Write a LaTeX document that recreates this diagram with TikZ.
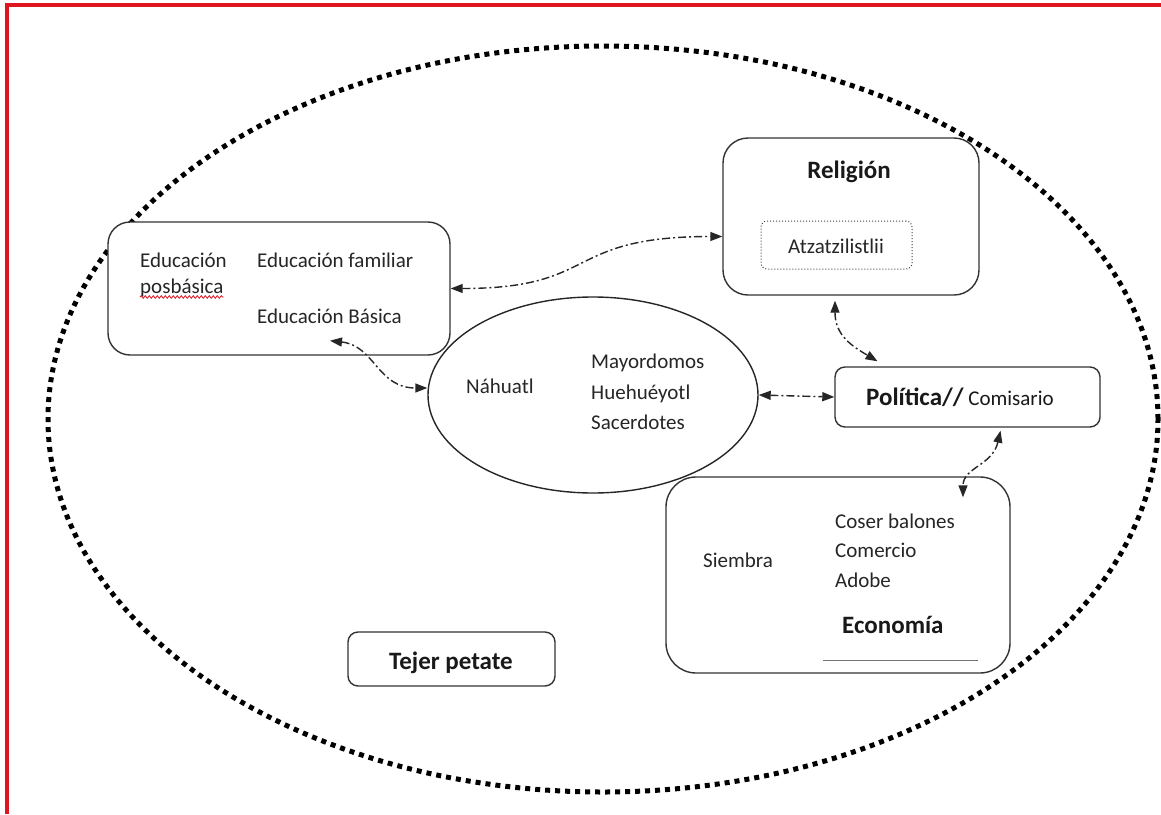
\documentclass[tikz,border=0pt]{standalone}
\usepackage{fontspec}
\setmainfont{Carlito}
\usetikzlibrary{arrows.meta,shapes.geometric,decorations.pathmorphing}
\definecolor{redb}{RGB}{222,22,32}
\newcommand\mytx{\fontsize{21}{25}\selectfont}
\newcommand\myhd{\fontsize{25}{29}\selectfont\bfseries}
\tikzset{
  box/.style={draw=black!80, fill=white, line width=1.4pt, rounded corners=#1, inner sep=0pt},
  box/.default=12pt,
  txt/.style={font=\mytx, inner sep=0pt, text=black!85},
  hd/.style={font=\myhd, inner sep=0pt, text=black!90},
  con/.style={line width=1.4pt, black!85, dash pattern=on 8pt off 3pt on 2pt off 3pt,
    {Triangle[length=12pt,width=9pt]}-{Triangle[length=12pt,width=9pt]}}
}
\begin{document}
\begin{tikzpicture}[x=1pt,y=-1pt]
\useasboundingbox (0,0) rectangle (1161,814);
\fill[white] (0,0) rectangle (1161,814);
\draw[redb, line width=3.5pt] (7,814) -- (7,5) -- (1161,5);

% outer dotted ellipse
\node[ellipse, draw=black, line width=5pt, dash pattern=on 5pt off 5pt,
      minimum width=1110pt, minimum height=746pt, inner sep=0pt] (outer) at (603,419) {};

% Educacion
\node[box=22pt, minimum width=342pt, minimum height=133pt] (edu) at (279,288.5) {};
\node[txt, anchor=base west] (eduA) at (140,267) {Educación};
\node[txt, anchor=base west] (eduB) at (140,293) {posbásica};
\draw[redb, line width=0.8pt, decorate, decoration={snake, amplitude=1.3pt, segment length=4pt}]
  ([yshift=-4pt]eduB.base west) -- ([yshift=-4pt]eduB.base east);
\node[txt, anchor=base west] (eduC) at (257,267) {Educación familiar};
\node[txt, anchor=base west] (eduD) at (257,323) {Educación Básica};

% Religion
\node[box=25pt, minimum width=256pt, minimum height=157pt] (rel) at (851,216.5) {};
\node[hd, anchor=base] (relT) at (849,178) {Religión};
\node[draw=black!75, dotted, line width=1pt, rounded corners=6pt,
      minimum width=151pt, minimum height=48pt, inner sep=0pt] (atz) at (836.5,245) {};
\node[txt, anchor=base] (atzT) at (836,253) {Atzatzilistlii};

% Politica
\node[box=10pt, minimum width=265pt, minimum height=60pt] (pol) at (967.5,397) {};
\node[anchor=base west, inner sep=0pt, text=black!90] (polT) at (866,405) {{\myhd Política//}{\mytx\ Comisario}};

% Economia
\node[box=30pt, minimum width=344pt, minimum height=196pt] (eco) at (838,575) {};
\node[txt, anchor=base west] (sie) at (703,567) {Siembra};
\node[txt, anchor=base west] (cos) at (835,528) {Coser balones};
\node[txt, anchor=base west] (com) at (835,557) {Comercio};
\node[txt, anchor=base west] (ado) at (835,587) {Adobe};
\node[hd, anchor=base west] (ecoT) at (842,633) {Economía};
\draw[black!55, line width=0.9pt] ([xshift=-15pt,yshift=13pt]eco.south) -- ([xshift=140pt,yshift=13pt]eco.south);

% Nahuatl
\node[ellipse, draw=black!85, line width=1.4pt, minimum width=330pt, minimum height=196pt, inner sep=0pt] (nah) at (593,395) {};
\node[txt, anchor=base west] (nahT) at (466,393) {Náhuatl};
\node[txt, anchor=base west] (may) at (591,368) {Mayordomos};
\node[txt, anchor=base west] (hue) at (591,399) {Huehuéyotl};
\node[txt, anchor=base west] (sac) at (591,429) {Sacerdotes};

% Tejer petate
\node[box=10pt, minimum width=207pt, minimum height=54pt] (tej) at (451.5,659) {};
\node[hd, anchor=base] (tejT) at (451,669) {Tejer petate};

% connectors
\draw[con] (edu.east) .. controls +(150,0) and +(-160,0) .. ([yshift=-20pt]rel.west);
\draw[con] ([xshift=51pt,yshift=15pt]edu.south) .. controls +(45,5) and +(-50,0) .. ([yshift=7pt]nah.west);
\draw[con] (nah.east) -- (pol.west);
\draw[con] ([xshift=-16pt,yshift=-5pt]rel.south) .. controls +(0,35) and +(-25,-15) .. ([xshift=-90pt,yshift=5pt]pol.north);
\draw[con] ([xshift=33pt,yshift=-3pt]pol.south) .. controls +(-8,35) and +(0,-30) .. ([xshift=125pt,yshift=-21pt]eco.north);
\end{tikzpicture}
\end{document}
